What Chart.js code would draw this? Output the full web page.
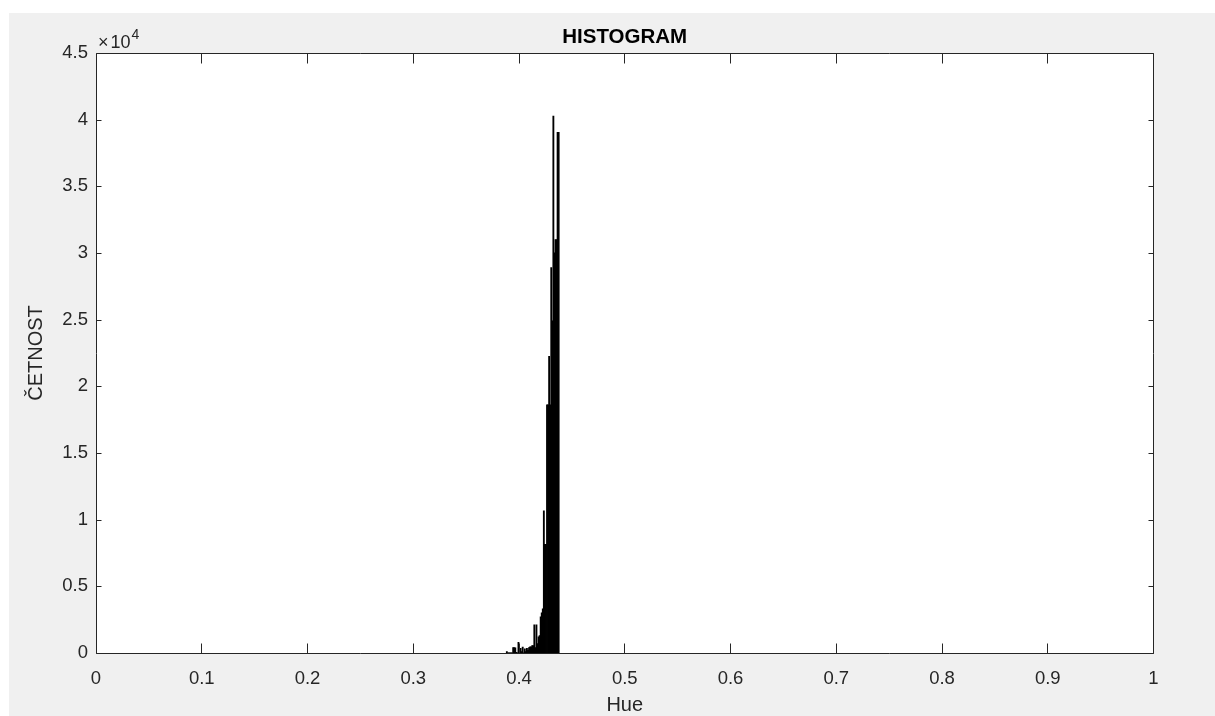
<!DOCTYPE html>
<html>
<head>
<meta charset="utf-8">
<script src="https://cdn.jsdelivr.net/npm/chart.js@4"></script>
<style>
  html, body { margin: 0; padding: 0; background: #ffffff; }
  #wrap { width: 1215px; height: 716px; }
</style>
</head>
<body>
<div id="wrap"><canvas id="c" width="1215" height="716"></canvas></div>
<script>
// ---- data (bin centres on Hue, counts) ----
const hueBins = [
  0.3885, 0.3895, 0.3905, 0.3915, 0.3925, 0.3935, 0.3945, 0.3955, 0.3965, 0.3975,
  0.3985, 0.3995, 0.4005, 0.4015, 0.4025, 0.4035, 0.4045, 0.4055, 0.4065, 0.4075,
  0.4085, 0.4095, 0.4105, 0.4115, 0.4125, 0.4135, 0.4145, 0.4155, 0.4165, 0.4175,
  0.4185, 0.4195, 0.4205, 0.4215, 0.4225, 0.4235, 0.4245, 0.4255, 0.4265, 0.4275,
  0.4285, 0.4295, 0.4305, 0.4315, 0.4325, 0.4335, 0.4345, 0.4355, 0.4365, 0.4375
];
const counts = [
  100, 0, 0, 0, 0, 0, 400, 400, 380, 50,
  0, 800, 0, 350, 100, 430, 0, 300, 100, 350,
  200, 400, 450, 450, 550, 550, 2100, 400, 2100, 700,
  1200, 1300, 2700, 3000, 3300, 10650, 8150, 8150, 18600, 18600,
  22250, 18600, 28900, 24900, 40270, 30000, 31000, 31000, 39050, 39050
];
const xTickValues = [0, 0.1, 0.2, 0.3, 0.4, 0.5, 0.6, 0.7, 0.8, 0.9, 1];
const xTickLabels = ['0', '0.1', '0.2', '0.3', '0.4', '0.5', '0.6', '0.7', '0.8', '0.9', '1'];
const yTickValues = [0, 5000, 10000, 15000, 20000, 25000, 30000, 35000, 40000, 45000];
const yTickLabels = ['0', '0.5', '1', '1.5', '2', '2.5', '3', '3.5', '4', '4.5'];
const titleText = 'HISTOGRAM';
const xTitle = 'Hue';
const yTitle = 'ČETNOST';
const yExponent = '4';

const FONT = '"Liberation Sans", Arial, Helvetica, sans-serif';
const AXC = '#262626';

const bgPlugin = {
  id: 'bg',
  beforeDraw(chart) {
    const ctx = chart.ctx;
    ctx.save();
    ctx.fillStyle = '#ffffff';
    ctx.fillRect(0, 0, chart.width, chart.height);
    ctx.fillStyle = '#f0f0f0';
    ctx.fillRect(9, 13, chart.width - 9, chart.height - 13);
    const a = chart.chartArea;
    ctx.fillStyle = '#ffffff';
    ctx.fillRect(a.left, a.top, a.right - a.left, a.bottom - a.top);
    ctx.restore();
  },
  afterDraw(chart) {
    const ctx = chart.ctx;
    const a = chart.chartArea;
    const xs = chart.scales.x, ys = chart.scales.y;
    const L = Math.floor(a.left) + 0.5, R = Math.floor(a.right) + 0.5;
    const T = Math.round(a.top) + 0.5, B = Math.round(a.bottom) + 0.5;
    ctx.save();
    ctx.strokeStyle = AXC;
    ctx.lineWidth = 1;
    ctx.beginPath();
    ctx.rect(L, T, R - L, B - T);
    ctx.stroke();
    ctx.beginPath();
    xs.ticks.forEach(t => {
      const px = Math.floor(xs.getPixelForValue(t.value)) + 0.5;
      ctx.moveTo(px, B); ctx.lineTo(px, B - 10);
      ctx.moveTo(px, T); ctx.lineTo(px, T + 10);
    });
    ys.ticks.forEach(t => {
      const py = Math.round(ys.getPixelForValue(t.value)) + 0.5;
      ctx.moveTo(L, py); ctx.lineTo(L + 5, py);
      ctx.moveTo(R, py); ctx.lineTo(R - 5, py);
    });
    ctx.stroke();
    // exponent label (x10^4)
    ctx.fillStyle = AXC;
    ctx.textBaseline = 'alphabetic';
    ctx.textAlign = 'left';
    ctx.font = '18px ' + FONT;
    ctx.fillText('\u00D7', 98, 48);
    const wx = ctx.measureText('\u00D7').width;
    ctx.fillText('10', 98 + wx + 2, 48);
    const w10 = ctx.measureText('10').width;
    ctx.font = '14px ' + FONT;
    ctx.fillText(yExponent, 98 + wx + 2 + w10 + 1, 39);
    ctx.restore();
  }
};

new Chart(document.getElementById('c'), {
  type: 'bar',
  data: {
    datasets: [{
      data: hueBins.map((h, i) => ({ x: h, y: counts[i] })),
      backgroundColor: '#000000',
      borderWidth: 0,
      barPercentage: 1,
      categoryPercentage: 1,
      inflateAmount: 0.4
    }]
  },
  options: {
    responsive: false,
    animation: false,
    devicePixelRatio: 1,
    layout: { padding: { left: 0, right: 61.5, top: 0, bottom: 0 } },
    plugins: {
      legend: { display: false },
      tooltip: { enabled: false },
      title: {
        display: true,
        text: titleText,
        fullSize: false,
        color: '#000000',
        font: { family: FONT, size: 20.5, weight: 'bold' },
        padding: { top: 25.4, bottom: 3 }
      }
    },
    scales: {
      x: {
        type: 'linear',
        min: 0, max: 1,
        offset: false,
        grid: { display: false, drawTicks: false },
        border: { display: false },
        afterBuildTicks(scale) { scale.ticks = xTickValues.map(v => ({ value: v })); },
        afterFit(scale) { scale.height = 63; },
        ticks: {
          autoSkip: false,
          maxRotation: 0,
          padding: 14.5,
          color: AXC,
          font: { family: FONT, size: 18.5 },
          callback: (v, i) => xTickLabels[i]
        },
        title: {
          display: true,
          text: xTitle,
          color: AXC,
          font: { family: FONT, size: 20 },
          padding: { top: 0, bottom: -1 }
        }
      },
      y: {
        min: 0, max: 45000,
        grid: { display: false, drawTicks: false },
        border: { display: false },
        afterBuildTicks(scale) { scale.ticks = yTickValues.map(v => ({ value: v })); },
        afterFit(scale) { scale.width = 96; },
        ticks: {
          autoSkip: false,
          padding: 8,
          color: AXC,
          font: { family: FONT, size: 18.5 },
          callback: (v, i) => yTickLabels[i]
        },
        title: {
          display: true,
          text: yTitle,
          color: AXC,
          font: { family: FONT, size: 20 },
          padding: { top: 24, bottom: 0 }
        }
      }
    }
  },
  plugins: [bgPlugin]
});
</script>
</body>
</html>
